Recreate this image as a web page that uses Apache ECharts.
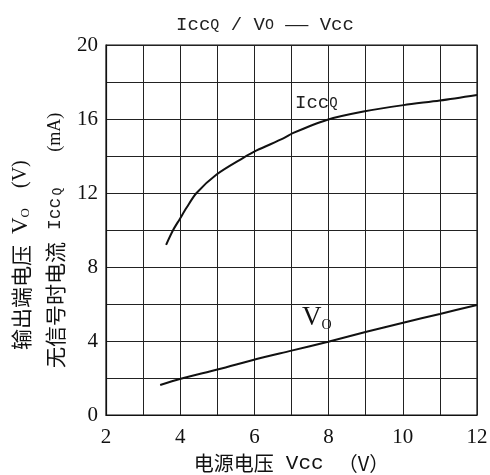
<!DOCTYPE html>
<html>
<head>
<meta charset="utf-8">
<script src="https://cdn.jsdelivr.net/npm/echarts@6/dist/echarts.min.js"></script>
<style>
html,body{margin:0;padding:0;background:#fff;}
#chart{width:490px;height:475px;}
</style>
</head>
<body>
<div id="chart"></div>
<script>
// Supply voltage Vcc (V) and quiescent current IccQ (mA)
const vccIcc = [3.62, 3.81, 3.99, 4.17, 4.44, 4.98, 5.70, 6.06, 6.78, 7.05, 7.95, 8.94, 10.02, 11.0, 12.0];
const iccQ   = [9.2, 10.0, 10.6, 11.2, 12.0, 13.0, 13.9, 14.3, 14.95, 15.25, 15.95, 16.4, 16.75, 17.0, 17.3];

// Supply voltage Vcc (V) and output voltage Vo (V)
const vccVo = [3.46, 3.99, 5.03, 6.06, 7.0, 7.99, 9.02, 10.01, 11.0, 12.0];
const vo    = [1.62, 1.95, 2.47, 3.03, 3.48, 3.96, 4.5, 4.99, 5.46, 5.95];

const xTickLabels = [2, 4, 6, 8, 10, 12];
const yTickLabels = [0, 4, 8, 12, 16, 20];

const SERIF = '"Liberation Serif", serif';
const MONO = '"Liberation Mono", monospace';
const CJK = '"Noto Sans CJK SC", sans-serif';
const INK = '#111';

const pair = (xs, ys) => xs.map((x, i) => [x, ys[i]]);

const chart = echarts.init(document.getElementById('chart'));
chart.setOption({
  backgroundColor: '#fff',
  animation: false,
  grid: {
    left: 106, right: 13, top: 45, bottom: 60,
    outerBoundsMode: 'none',
    show: true, borderColor: INK, borderWidth: 1.2
  },
  xAxis: {
    type: 'value', min: 2, max: 12, interval: 1,
    axisLine: { lineStyle: { color: INK, width: 1.2 } },
    axisTick: { show: false },
    splitLine: { show: true, lineStyle: { color: '#222', width: 1 } },
    axisLabel: {
      color: INK, fontFamily: SERIF, fontSize: 21, margin: 12,
      formatter: v => xTickLabels.includes(v) ? String(v) : ''
    },
    name: '{c|电源电压}{l|Vcc}{p|（V）}',
    nameLocation: 'middle', nameGap: 35,
    nameTextStyle: {
      color: INK,
      rich: {
        c: { fontFamily: CJK, fontSize: 20, color: INK, padding: [0, 12, 0, 0] },
        l: { fontFamily: MONO, fontSize: 21, color: INK },
        p: { fontFamily: CJK, fontSize: 20, color: INK, padding: [0, 0, 0, 14] }
      }
    }
  },
  yAxis: {
    type: 'value', min: 0, max: 20, interval: 2,
    axisLine: { show: true, lineStyle: { color: INK, width: 1.2 } },
    axisTick: { show: false },
    splitLine: { show: true, lineStyle: { color: '#222', width: 1 } },
    axisLabel: {
      color: INK, fontFamily: SERIF, fontSize: 21, margin: 8,
      formatter: v => yTickLabels.includes(v) ? String(v) : ''
    }
  },
  series: [
    {
      type: 'line', data: pair(vccIcc, iccQ), smooth: 0.3, symbol: 'none',
      lineStyle: { color: INK, width: 2 }
    },
    {
      type: 'line', data: pair(vccVo, vo), smooth: 0.3, symbol: 'none',
      lineStyle: { color: INK, width: 2 }
    }
  ],
  graphic: [
    {
      type: 'text', x: 265, y: 25,
      style: {
        text: '{n|Icc}{s|Q}{n| / V}{s|O}{n| }{d|—}{n| Vcc}',
        align: 'center', verticalAlign: 'middle',
        rich: {
          n: { fontFamily: MONO, fontSize: 19, fill: '#222' },
          s: { fontFamily: MONO, fontSize: 15, fill: '#222' },
          d: { fontFamily: SERIF, fontSize: 23, fill: '#222' }
        }
      }
    },
    {
      type: 'text', x: 295, y: 103,
      style: {
        text: '{n|Icc}{s|Q}',
        verticalAlign: 'middle',
        rich: {
          n: { fontFamily: MONO, fontSize: 19, fill: '#222' },
          s: { fontFamily: MONO, fontSize: 14, fill: '#222' }
        }
      }
    },
    {
      type: 'text', x: 302, y: 318,
      style: {
        text: '{n|V}{s|O}',
        verticalAlign: 'middle',
        rich: {
          n: { fontFamily: SERIF, fontSize: 27, fill: INK },
          s: { fontFamily: SERIF, fontSize: 14, fill: INK, padding: [14, 0, 0, 0] }
        }
      }
    },
    {
      type: 'text', x: 21, y: 350, rotation: Math.PI / 2,
      style: {
        text: '{c|输出端电压}{v|V}{s|O}{p|(V)}',
        align: 'left', verticalAlign: 'middle',
        rich: {
          c: { fontFamily: CJK, fontSize: 21, fill: INK },
          v: { fontFamily: SERIF, fontSize: 23, fill: INK, padding: [0, 0, 0, 11] },
          s: { fontFamily: SERIF, fontSize: 13, fill: INK, padding: [10, 0, 0, 0] },
          p: { fontFamily: SERIF, fontSize: 20, fill: INK, padding: [0, 0, 0, 20] }
        }
      }
    },
    {
      type: 'text', x: 55, y: 368, rotation: Math.PI / 2,
      style: {
        text: '{c|无信号时电流}{i|Icc}{s|Q}{p|(mA)}',
        align: 'left', verticalAlign: 'middle',
        rich: {
          c: { fontFamily: CJK, fontSize: 21, fill: INK },
          i: { fontFamily: MONO, fontSize: 18, fill: '#222', padding: [0, 0, 0, 12] },
          s: { fontFamily: MONO, fontSize: 13, fill: '#222', padding: [6, 0, 0, 2] },
          p: { fontFamily: SERIF, fontSize: 18, fill: INK, padding: [0, 0, 0, 36] }
        }
      }
    }
  ]
});
</script>
</body>
</html>
